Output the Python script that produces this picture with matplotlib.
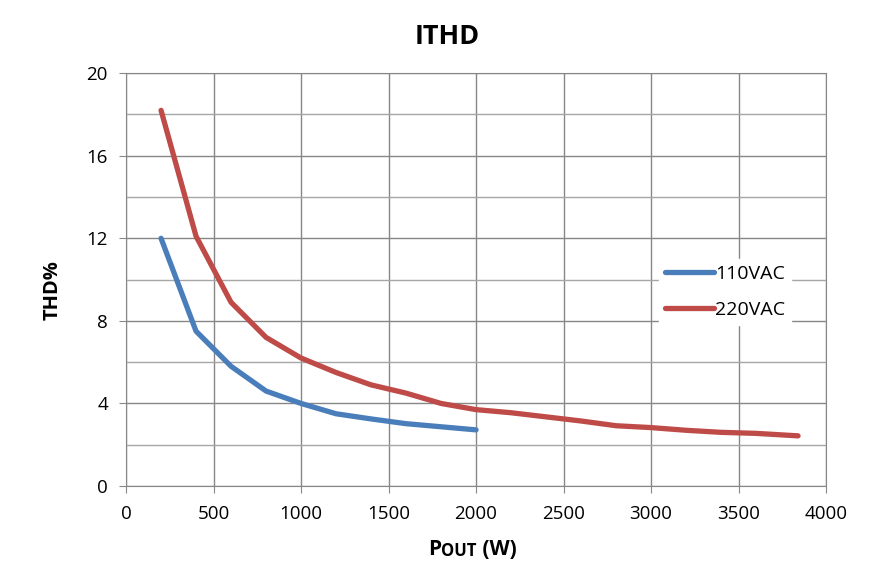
import numpy as np
import matplotlib.pyplot as plt
from matplotlib.ticker import MultipleLocator

plt.rcParams['font.family'] = ['Open Sans', 'DejaVu Sans']

# data
pout_110 = [200, 400, 600, 800, 1000, 1200, 1400, 1600, 1800, 2000]
thd_110 = [12.0, 7.5, 5.8, 4.6, 4.0, 3.5, 3.25, 3.02, 2.87, 2.72]

pout_220 = [200, 400, 600, 800, 1000, 1200, 1400, 1600, 1800, 2000,
            2200, 2400, 2600, 2800, 3000, 3200, 3400, 3600, 3840]
thd_220 = [18.2, 12.1, 8.9, 7.2, 6.2, 5.5, 4.9, 4.5, 4.0, 3.7,
           3.55, 3.35, 3.15, 2.92, 2.83, 2.7, 2.6, 2.55, 2.43]

fig = plt.figure(figsize=(8.94, 5.81), dpi=100)
ax = fig.add_axes([0.141, 0.1635, 0.783, 0.7105])

ax.plot(pout_110, thd_110, color='#4A7EBB', lw=3.8, solid_capstyle='round',
        solid_joinstyle='round', label='110VAC')
ax.plot(pout_220, thd_220, color='#BE4B48', lw=3.8, solid_capstyle='round',
        solid_joinstyle='round', label='220VAC')

ax.set_xlim(0, 4000)
ax.set_ylim(0, 20)
ax.xaxis.set_major_locator(MultipleLocator(500))
ax.yaxis.set_major_locator(MultipleLocator(4))
ax.yaxis.set_minor_locator(MultipleLocator(2))
ax.grid(which='major', color='#878787', lw=1.0)
ax.grid(which='minor', axis='y', color='#A6A6A6', lw=1.0)
ax.set_axisbelow(True)
for s in ax.spines.values():
    s.set_color('#878787')
ax.tick_params(which='major', length=5, color='#878787', labelsize=13.5)
ax.tick_params(axis='x', pad=9)
ax.tick_params(axis='y', pad=8)
ax.tick_params(which='minor', length=0)

fig.text(0.5, 0.936, 'ITHD', fontsize=19.5, fontweight='bold', ha='center', va='center')
fig.text(0.059, 0.50, 'THD%', fontsize=14.5, fontweight='bold', rotation=90,
         ha='center', va='center')

# small caps style x label
t1 = fig.text(0.479, 0.036, 'P', fontsize=15, fontweight='bold', ha='left', va='bottom')
t2 = ax.annotate('OUT', xy=(1, 0), xycoords=t1, fontsize=12, fontweight='bold',
                 ha='left', va='bottom')
ax.annotate(' (W)', xy=(1, 0), xycoords=t2, fontsize=15, fontweight='bold',
            ha='left', va='bottom')

leg = ax.legend(loc='upper left', bbox_to_anchor=(0.748, 0.574), frameon=True,
                fontsize=14, handlelength=2.5, handletextpad=0.05,
                labelspacing=0.95, borderpad=0.3)
leg.get_frame().set_edgecolor('white')
leg.get_frame().set_facecolor('white')
leg.get_frame().set_alpha(1)
leg.get_frame().set_boxstyle('square', pad=0)

fig.savefig('out.png', dpi=100)
